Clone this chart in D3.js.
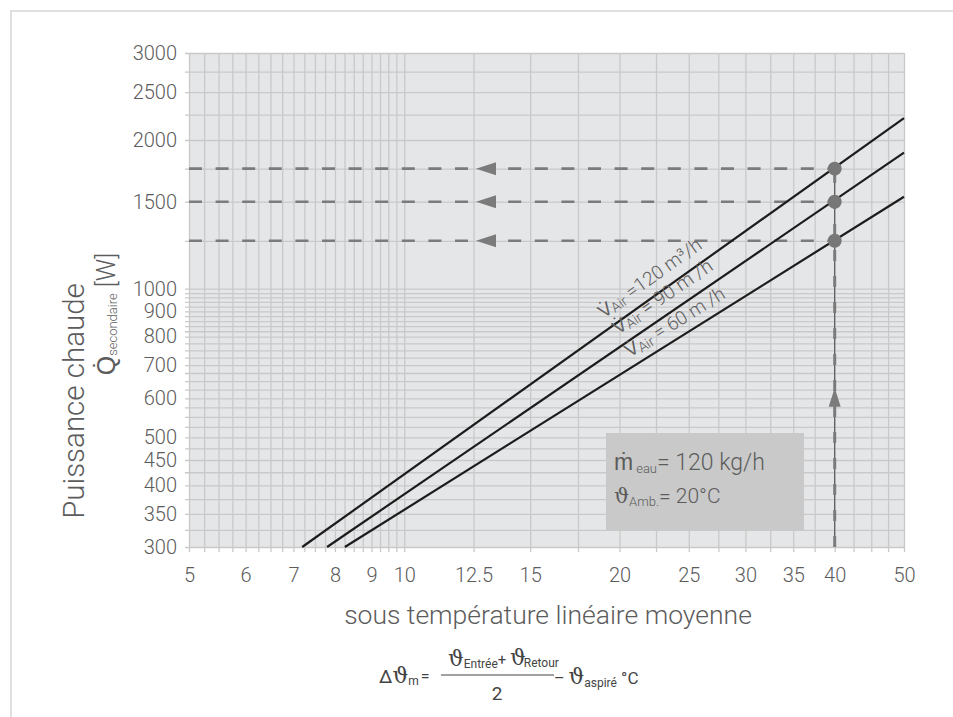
<!DOCTYPE html>
<html><head><meta charset="utf-8">
<script src="https://cdn.jsdelivr.net/npm/d3@7"></script>
<style>
body{margin:0;background:#fff;}
svg{display:block;font-family:Roboto,"Liberation Sans",sans-serif;}
</style></head><body>
<svg id="chart" width="953" height="717"></svg>
<script>
// ---- data ----
const xTickValues = [5,6,7,8,9,10,12.5,15,20,25,30,35,40,50];
const xTickLabels = ["5","6","7","8","9","10","12.5","15","20","25","30","35","40","50"];
const yTickValues = [300,350,400,450,500,600,700,800,900,1000,1500,2000,2500,3000];
const yTickLabels = ["300","350","400","450","500","600","700","800","900","1000","1500","2000","2500","3000"];
const seriesNames = ["120","90","60"];
const seriesStartX = [7.2, 7.8, 8.26];
const seriesStartY = [300, 300, 300];
const seriesEndX = [50, 50, 50];
const seriesEndY = [2215, 1885, 1535];
const labelAtX = [19.4, 20.3, 21.0];
const readX = 40;
const readY = [1750, 1500, 1250];
const arrowX = 12.6;
const arrowUpY = 630;

// ---- layout ----
const svg = d3.select("#chart");
const L = 189, R = 904, T = 53, B = 547;
const x = d3.scaleLog().domain([5, 50]).range([L, R]);
const y = d3.scaleLog().domain([300, 3000]).range([B, T]);
const textCol = "#5c5c5c";
const labelOffset = [-11, -11, -9];
const labelSize = [19, 19.5, 19];

// frame
svg.append("path").attr("d", "M11,717V11H953").attr("fill", "none")
  .attr("stroke", "#d6d6d6").attr("stroke-width", 1.5);

// plot background
svg.append("rect").attr("x", L).attr("y", T).attr("width", R - L).attr("height", B - T)
  .attr("fill", "#e5e6e8");

// grid values
const xGrid = d3.range(5, 10, 0.25).concat(d3.range(10, 50.01, 2.5));
const yGrid = d3.range(300, 800, 25).concat(d3.range(800, 1000, 20)).concat(d3.range(1000, 3000.1, 250));

const gx = svg.append("g").attr("transform", `translate(0,${B})`)
  .call(d3.axisBottom(x).tickValues(xGrid).tickSizeInner(-(B - T)).tickSizeOuter(0).tickFormat(""));
gx.select(".domain").remove();
gx.selectAll(".tick line").attr("y1", 5).attr("stroke", "#c9c9c9").attr("stroke-width", 1.3);

const gy = svg.append("g").attr("transform", `translate(${L},0)`)
  .call(d3.axisLeft(y).tickValues(yGrid).tickSizeInner(-(R - L)).tickSizeOuter(0).tickFormat(""));
gy.select(".domain").remove();
gy.selectAll(".tick line").attr("x1", -4).attr("stroke", "#c9c9c9").attr("stroke-width", 1.3);

// tick labels
const ax = svg.append("g").attr("transform", `translate(0,${B})`)
  .call(d3.axisBottom(x).tickValues(xTickValues).tickSize(0).tickPadding(21)
    .tickFormat((d, i) => xTickLabels[i]));
ax.select(".domain").remove();
ax.selectAll("text").attr("font-size", 20).attr("fill", textCol).attr("font-family", "Roboto").attr("font-weight", 300);

const ay = svg.append("g").attr("transform", `translate(${L},0)`)
  .call(d3.axisLeft(y).tickValues(yTickValues).tickSize(0).tickPadding(12)
    .tickFormat((d, i) => yTickLabels[i]));
ay.select(".domain").remove();
ay.selectAll("text").attr("font-size", 20).attr("fill", textCol).attr("font-family", "Roboto").attr("font-weight", 300);

// dashed read-off lines
const dashCol = "#7b7b7b";
svg.append("g").selectAll("line").data(readY).join("line")
  .attr("x1", x(5)).attr("x2", x(readX)).attr("y1", d => y(d)).attr("y2", d => y(d))
  .attr("stroke", dashCol).attr("stroke-width", 2.6).attr("stroke-dasharray", "13,13.6");
svg.append("g").selectAll("path").data(readY).join("path")
  .attr("d", d => `M${x(arrowX)},${y(d)}l20,-6.5v13z`).attr("fill", dashCol);

// vertical read line
svg.append("line").attr("x1", x(readX)).attr("x2", x(readX)).attr("y1", y(300)).attr("y2", y(readY[0]))
  .attr("stroke", "#444").attr("stroke-width", 1);
svg.append("line").attr("x1", x(readX)).attr("x2", x(readX)).attr("y1", y(300)).attr("y2", y(readY[0]))
  .attr("stroke", dashCol).attr("stroke-width", 3).attr("stroke-dasharray", "11,15");
svg.append("path").attr("d", `M${x(readX)},${y(arrowUpY)}l-6,19h12z`).attr("fill", dashCol);

// series lines
const lineGen = d3.line().x(d => x(d[0])).y(d => y(d[1]));
const series = seriesNames.map((n, i) => ({
  name: n,
  pts: [[seriesStartX[i], seriesStartY[i]], [seriesEndX[i], seriesEndY[i]]]
}));
svg.append("g").selectAll("path").data(series).join("path")
  .attr("d", d => lineGen(d.pts)).attr("fill", "none").attr("stroke", "#1c1c1c").attr("stroke-width", 2.2);

// circles
svg.append("g").selectAll("circle").data(readY).join("circle")
  .attr("cx", x(readX)).attr("cy", d => y(d)).attr("r", 7).attr("fill", "#777");

// line labels
series.forEach((s, i) => {
  const p0 = [x(s.pts[0][0]), y(s.pts[0][1])], p1 = [x(s.pts[1][0]), y(s.pts[1][1])];
  const ang = Math.atan2(p1[1] - p0[1], p1[0] - p0[0]) * 180 / Math.PI;
  const lx = labelAtX[i];
  const t = (Math.log(lx) - Math.log(s.pts[0][0])) / (Math.log(s.pts[1][0]) - Math.log(s.pts[0][0]));
  const ly = Math.exp(Math.log(s.pts[0][1]) + t * (Math.log(s.pts[1][1]) - Math.log(s.pts[0][1])));
  const g = svg.append("g").attr("transform", `translate(${x(lx)},${y(ly)}) rotate(${ang})`);
  const tx = g.append("text").attr("y", labelOffset[i]).attr("fill", "#606060").attr("font-size", labelSize[i]).attr("font-weight", 300);
  tx.append("tspan").text("V\u0307");
  tx.append("tspan").attr("font-size", 14).attr("dy", 2).text("Air");
  const rest = i === 0 ? " =120 m\u00b3/h" : ` = ${s.name} m /h`;
  tx.append("tspan").attr("dy", -2).text(rest);
});

// info box
svg.append("rect").attr("x", 606).attr("y", 433).attr("width", 198).attr("height", 98).attr("fill", "#c9c9c9");
const bt1 = svg.append("text").attr("x", 614).attr("y", 470).attr("fill", textCol).attr("font-size", 23).attr("font-weight", 300);
bt1.append("tspan").text("\u1e41");
bt1.append("tspan").attr("font-size", 13).attr("dy", 3).attr("dx", 3).text("eau");
bt1.append("tspan").attr("dy", -3).text("= 120 kg/h");
const bt2 = svg.append("text").attr("x", 614).attr("y", 503).attr("fill", textCol).attr("font-size", 21).attr("font-weight", 300);
bt2.append("tspan").attr("font-family", "DejaVu Serif").attr("font-size", 21).text("\u03d1");
bt2.append("tspan").attr("font-size", 13).attr("dy", 3).text("Amb.");
bt2.append("tspan").attr("dy", -3).text("= 20°C");

// axis titles
svg.append("text").attr("x", 548).attr("y", 624).attr("text-anchor", "middle")
  .attr("fill", textCol).attr("font-size", 26.5).attr("font-weight", 300).text("sous température linéaire moyenne");

svg.append("text").attr("transform", "translate(84,401) rotate(-90)").attr("text-anchor", "middle")
  .attr("fill", textCol).attr("font-size", 29.5).attr("font-weight", 300).text("Puissance chaude");
const yt2 = svg.append("text").attr("transform", "translate(115,314) rotate(-90)").attr("text-anchor", "middle")
  .attr("fill", textCol).attr("font-size", 25).attr("font-weight", 300);
yt2.append("tspan").text("Q\u0307");
yt2.append("tspan").attr("font-size", 13).attr("dy", 2).text("secondaire");
yt2.append("tspan").attr("dy", -2).text(" [W]");

// formula
const fCol = "#444";
const serif = "DejaVu Serif";
const f1 = svg.append("text").attr("x", 379).attr("y", 683).attr("fill", fCol).attr("font-size", 19);
f1.append("tspan").text("\u0394");
f1.append("tspan").attr("font-family", serif).attr("font-size", 22).text("\u03d1");
f1.append("tspan").attr("font-size", 12).attr("dy", 2).text("m");
f1.append("tspan").attr("dy", -3).attr("dx", 2).attr("font-size", 16).text("=");
svg.append("line").attr("x1", 441).attr("x2", 554).attr("y1", 675).attr("y2", 675).attr("stroke", fCol).attr("stroke-width", 1);
const f2 = svg.append("text").attr("x", 448).attr("y", 666).attr("fill", fCol).attr("font-size", 22);
f2.append("tspan").attr("font-family", serif).text("\u03d1");
f2.append("tspan").attr("font-size", 12).attr("dy", 2).text("Entrée");
f2.append("tspan").attr("font-size", 15).attr("dy", -3).text("+ ");
f2.append("tspan").attr("font-family", serif).text("\u03d1");
f2.append("tspan").attr("font-size", 12).attr("dy", 2).attr("dx", -2).text("Retour");
svg.append("text").attr("x", 497).attr("y", 700).attr("text-anchor", "middle").attr("fill", fCol).attr("font-size", 19).text("2");
const f3 = svg.append("text").attr("x", 554).attr("y", 684).attr("fill", fCol).attr("font-size", 16);
f3.append("tspan").text("– ");
f3.append("tspan").attr("font-family", serif).attr("font-size", 22).text("\u03d1");
f3.append("tspan").attr("font-size", 12).attr("dy", 3).text("aspiré");
f3.append("tspan").attr("dy", -3).attr("font-size", 17).text(" °C");
</script>
</body></html>
